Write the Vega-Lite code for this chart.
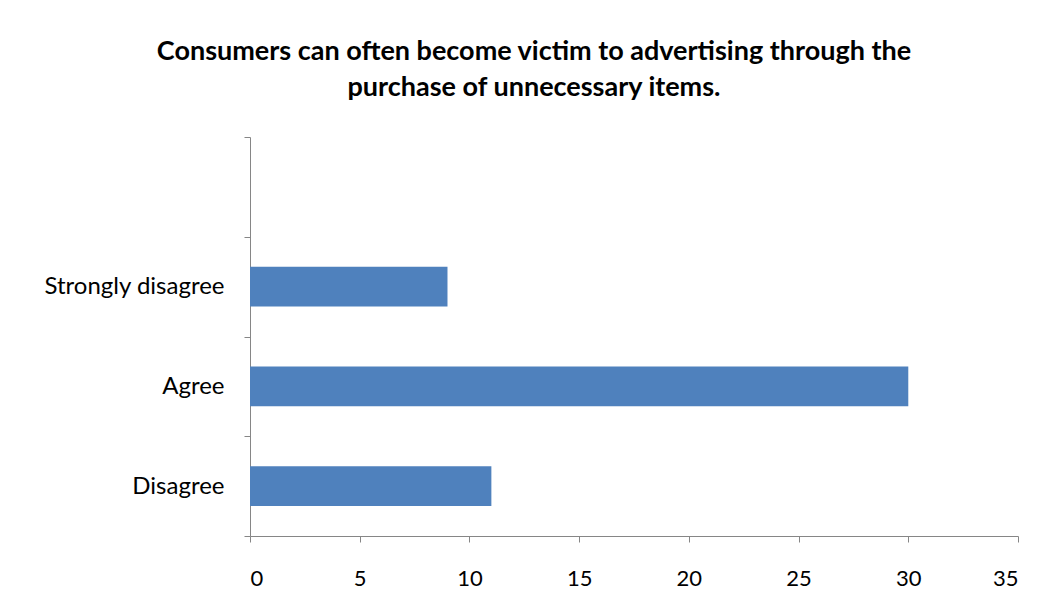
{
  "$schema": "https://vega.github.io/schema/vega-lite/v6.json",
  "autosize": {"type": "none"},
  "width": 768,
  "height": 399,
  "padding": {"left": 250, "top": 137, "right": 37, "bottom": 76},
  "background": "white",
  "title": {
    "text": ["Consumers can often become victim to advertising through the", "purchase of unnecessary items."],
    "font": "Lato",
    "fontSize": 27,
    "fontWeight": "bold",
    "color": "black",
    "anchor": "middle",
    "dx": -100,
    "lineHeight": 36,
    "offset": 23
  },
  "data": {
    "values": [
      {"response": "Strongly disagree", "count": 9},
      {"response": "Agree", "count": 30},
      {"response": "Disagree", "count": 11}
    ]
  },
  "mark": {"type": "bar", "color": "#4F81BD", "height": {"band": 0.4}},
  "encoding": {
    "y": {
      "field": "response",
      "type": "nominal",
      "sort": null,
      "scale": {"domain": [" ", "Strongly disagree", "Agree", "Disagree"], "paddingInner": 0, "paddingOuter": 0},
      "axis": {
        "title": null,
        "tickBand": "extent",
        "labelFont": "Lato",
        "labelFontSize": 24,
        "labelLimit": 400,
        "labelColor": "black",
        "labelPadding": 20,
        "domainColor": "#868686",
        "tickColor": "#868686",
        "tickSize": 6
      }
    },
    "x": {
      "field": "count",
      "type": "quantitative",
      "scale": {"domain": [0, 35], "nice": false},
      "axis": {
        "title": null,
        "values": [0, 5, 10, 15, 20, 25, 30, 35],
        "grid": false,
        "labelFont": "Lato",
        "labelFontSize": 22,
        "labelColor": "black",
        "labelPadding": 26,
        "domainColor": "#868686",
        "tickColor": "#868686",
        "tickSize": 6
      }
    }
  },
  "config": {"view": {"stroke": null}}
}
